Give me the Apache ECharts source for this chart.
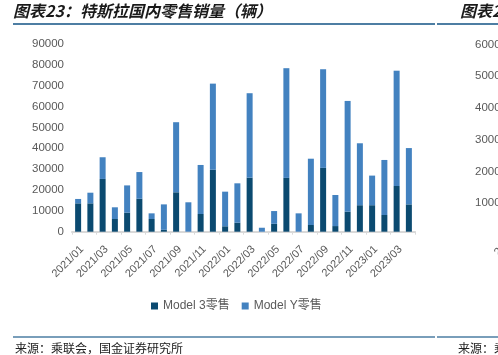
<!DOCTYPE html>
<html>
<head>
<meta charset="utf-8">
<script src="https://cdn.jsdelivr.net/npm/echarts@6/dist/echarts.min.js"></script>
<style>html,body{margin:0;padding:0;background:#fff}#c{width:498px;height:355px}</style>
</head>
<body>
<div id="c"></div>
<script>
const categories = ['2021/01','2021/02','2021/03','2021/04','2021/05','2021/06','2021/07','2021/08','2021/09','2021/10','2021/11','2021/12',
  '2022/01','2022/02','2022/03','2022/04','2022/05','2022/06','2022/07','2022/08','2022/09','2022/10','2022/11','2022/12',
  '2023/01','2023/02','2023/03','2023/04'];
const model3 = [13600,13600,25300,6100,9100,15800,6100,900,18900,0,8500,29700,2600,4300,25900,0,3800,25800,0,3200,30600,2700,9600,12700,12700,8000,21900,13100];
const modelY = [2100,5100,10400,5600,13100,12800,2700,12200,33600,14100,23500,41300,16600,18900,40500,1900,6100,52600,8800,31800,47300,14900,53100,29700,14200,26400,55300,27000];
const seriesNames = ['Model 3零售','Model Y零售'];
const titleText = '图表23：特斯拉国内零售销量（辆）';
const sourceText = '来源：乘联会，国金证券研究所';
const neighbourTitle = '图表24';
const neighbourSource = '来源：乘联会';
const neighbourTicks = ['60000','50000','40000','30000','20000','10000'];

const chart = echarts.init(document.getElementById('c'), null, {renderer:'canvas'});
const cjk = '"Noto Sans CJK SC", sans-serif';
const lineColor = '#4d7ea3';
const graphics = [
  {type:'text', left:13, top:3, style:{text:titleText, font:'italic bold 16px ' + cjk, fill:'#1a1a1a'}},
  {type:'line', shape:{x1:13,y1:24,x2:435,y2:24}, style:{stroke:lineColor, lineWidth:2}},
  {type:'line', shape:{x1:437,y1:24,x2:498,y2:24}, style:{stroke:lineColor, lineWidth:2}},
  {type:'line', shape:{x1:13,y1:337,x2:435,y2:337}, style:{stroke:lineColor, lineWidth:1.5}},
  {type:'line', shape:{x1:437,y1:337,x2:498,y2:337}, style:{stroke:lineColor, lineWidth:1.5}},
  {type:'text', left:15, top:342, style:{text:sourceText, font:'12px ' + cjk, fill:'#222'}},
  {type:'text', x:460, y:3, style:{text:neighbourTitle, font:'italic bold 16px ' + cjk, fill:'#1a1a1a'}},
  {type:'text', x:458, y:342, style:{text:neighbourSource, font:'12px ' + cjk, fill:'#222'}},
  {type:'text', x:500, y:258, rotation:Math.PI/4, style:{text:'2021/01', font:'11px "Liberation Sans", Arial', fill:'#595959', textAlign:'left', textVerticalAlign:'bottom'}}
];
const tickYs = [45,76,108,140,172,203];
neighbourTicks.forEach((t,i)=>{
  graphics.push({type:'text', x:475, y:tickYs[i], style:{text:t, font:'11.5px "Liberation Sans", Arial', fill:'#595959', textVerticalAlign:'middle'}});
});

chart.setOption({
  animation:false,
  textStyle:{fontFamily:'"Liberation Sans", Arial, sans-serif'},
  grid:{left:72, right:83, top:44, bottom:123.3, containLabel:false},
  legend:{
    data:seriesNames, left:146, top:295, icon:'rect', itemWidth:7, itemHeight:7, itemGap:12,
    textStyle:{fontSize:12, color:'#595959', fontFamily:'"Liberation Sans", "Noto Sans CJK SC", sans-serif'}
  },
  xAxis:{
    type:'category', data:categories,
    axisLine:{lineStyle:{color:'#d9d9d9', width:2}},
    axisTick:{show:true, interval:1, length:3, lineStyle:{color:'#d9d9d9'}},
    axisLabel:{interval:1, rotate:45, fontSize:11, color:'#595959', margin:12, verticalAlign:'top'}
  },
  yAxis:{
    type:'value', min:0, max:90000, interval:10000,
    splitLine:{show:false}, axisLine:{show:false}, axisTick:{show:false},
    axisLabel:{fontSize:11.5, color:'#595959', margin:8, formatter:(v)=>String(v)}
  },
  series:[
    {name:seriesNames[0], type:'bar', stack:'s', data:model3, barWidth:6, itemStyle:{color:'#0b4a70'}},
    {name:seriesNames[1], type:'bar', stack:'s', data:modelY, barWidth:6, itemStyle:{color:'#4382c0'}}
  ],
  graphic:graphics
});
</script>
</body>
</html>
